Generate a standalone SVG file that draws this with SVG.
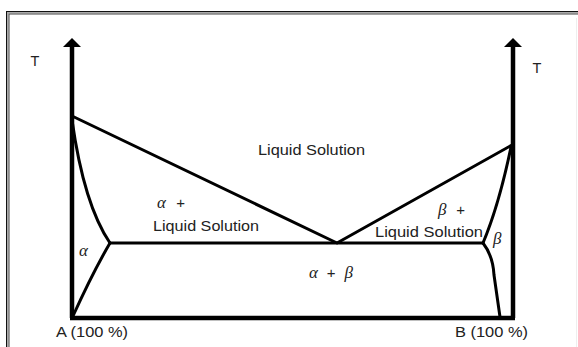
<svg xmlns="http://www.w3.org/2000/svg" width="578" height="347" viewBox="0 0 578 347">
<style>
.ln{fill:none;stroke:#000;stroke-width:3;stroke-linecap:round;stroke-linejoin:round}
.ax{fill:none;stroke:#000;stroke-width:4.5}
.t{font-family:"Liberation Sans",Arial,sans-serif;font-size:14.5px;fill:#222}
.g{font-family:"Liberation Serif","Times New Roman",serif;font-style:italic;font-size:17px;fill:#222}
.p{font-style:normal;font-family:"Liberation Sans",Arial,sans-serif;font-size:15px}
</style>
<rect x="0" y="0" width="578" height="347" fill="#fff"/>
<g id="frame">
<rect x="6.5" y="11.5" width="620" height="400" fill="none" stroke="#111" stroke-width="1"/>
<rect x="7.75" y="12.75" width="620" height="400" fill="none" stroke="#aaa" stroke-width="1.5"/>
<rect x="9" y="14" width="620" height="400" fill="none" stroke="#444" stroke-width="1"/>
<line x1="576.5" y1="18" x2="576.5" y2="347" stroke="#eee" stroke-width="1"/>
</g>
<g id="axes">
<line class="ax" x1="72" y1="45" x2="72" y2="318"/>
<line class="ax" x1="513" y1="45" x2="513" y2="318"/>
<line class="ax" x1="70" y1="318" x2="515" y2="318"/>
<polygon points="72,38 81,47 63,47" fill="#000"/>
<polygon points="513,38 522,47 504,47" fill="#000"/>
</g>
<g id="connectors">
<path class="ln" d="M72,116 L337,243 L512,145"/>
<path class="ln" d="M110,243 L483,243"/>
<path class="ln" d="M72,120 Q84,205 110,243"/>
<path class="ln" d="M110,243 Q93,272 73,316"/>
<path class="ln" d="M511,147 Q499,205 483,243"/>
<path class="ln" d="M483,243 Q493,256 494,275 L500,317"/>
</g>
<g id="labels">
<text class="t" x="35" y="66" text-anchor="middle">T</text>
<text class="t" x="537" y="73" text-anchor="middle">T</text>
<text class="t" x="258" y="155" textLength="107" lengthAdjust="spacingAndGlyphs">Liquid Solution</text>
<text class="g" x="157" y="208" textLength="28">α <tspan class="p">+</tspan></text>
<text class="t" x="153" y="231" textLength="106" lengthAdjust="spacingAndGlyphs">Liquid Solution</text>
<text class="g" x="438" y="215" textLength="27">β <tspan class="p">+</tspan></text>
<text class="t" x="375" y="237" textLength="108" lengthAdjust="spacingAndGlyphs">Liquid Solution</text>
<text class="g" x="493" y="244">β</text>
<text class="g" x="79" y="256">α</text>
<text class="g" x="309" y="278" textLength="44">α <tspan class="p">+</tspan> β</text>
<text class="t" x="56" y="337" textLength="72" lengthAdjust="spacingAndGlyphs">A (100 %)</text>
<text class="t" x="455" y="337" textLength="73" lengthAdjust="spacingAndGlyphs">B (100 %)</text>
</g>
</svg>
